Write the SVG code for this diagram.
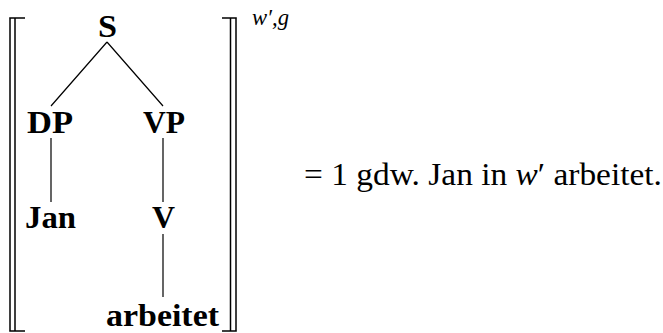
<svg xmlns="http://www.w3.org/2000/svg" width="663" height="333" viewBox="0 0 663 333">
<style>
.n{font-family:'Liberation Serif',serif;font-weight:bold;font-size:31px;fill:#000;text-anchor:middle}
.t{font-family:'Liberation Serif',serif;font-size:31px;fill:#000}
.sup{font-family:'Liberation Serif',serif;font-style:italic;font-size:24px;fill:#000}
.e{stroke:#000;stroke-width:1.2;fill:none}
.b{stroke:#000;stroke-width:1.5;fill:none}
</style>
<rect width="663" height="333" fill="#fff"/>
<g id="bracket-left">
<path class="b" d="M10,18V331M15,18V331M9.2,18H25M9.2,331H25"/>
</g>
<g id="bracket-right">
<path class="b" d="M236,18V331M230.5,18V331M236.8,18H222M236.8,331H222"/>
</g>
<g id="edges">
<path class="e" d="M107,42L51,106M107,42L163,106M51,138V202M163,138V202M163,234V297"/>
</g>
<g id="node-S"><text class="n" x="107.5" y="37" textLength="19" lengthAdjust="spacingAndGlyphs">S</text></g>
<g id="node-DP"><text class="n" x="50" y="133" textLength="46" lengthAdjust="spacingAndGlyphs">DP</text></g>
<g id="node-VP"><text class="n" x="164" y="133" textLength="42" lengthAdjust="spacingAndGlyphs">VP</text></g>
<g id="node-Jan"><text class="n" x="50.5" y="228" textLength="51" lengthAdjust="spacingAndGlyphs">Jan</text></g>
<g id="node-V"><text class="n" x="163.5" y="228" textLength="23" lengthAdjust="spacingAndGlyphs">V</text></g>
<g id="node-arbeitet"><text class="n" x="162.5" y="326" textLength="113" lengthAdjust="spacingAndGlyphs">arbeitet</text></g>
<g id="superscript"><text class="sup" x="252" y="25" textLength="37" lengthAdjust="spacingAndGlyphs">w′,g</text></g>
<g id="result"><text class="t" x="304" y="185" textLength="358" lengthAdjust="spacingAndGlyphs">= 1 gdw. Jan in <tspan font-style="italic">w</tspan>′ arbeitet.</text></g>
</svg>
